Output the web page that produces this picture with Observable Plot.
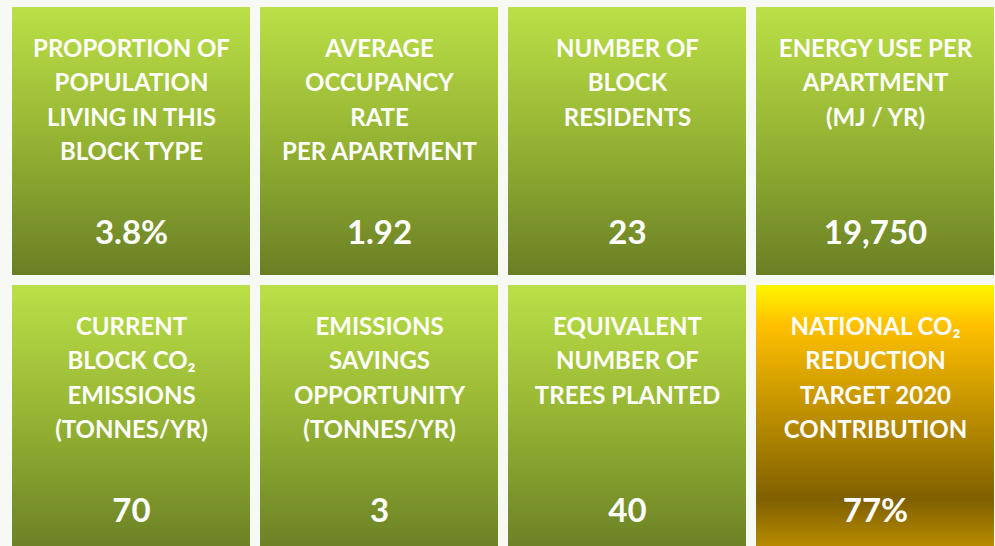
<!DOCTYPE html>
<html>
<head>
<meta charset="utf-8">
<script src="https://cdn.jsdelivr.net/npm/d3@7"></script>
<script src="https://cdn.jsdelivr.net/npm/@observablehq/plot@0.6"></script>
<style>
  html, body { margin: 0; padding: 0; background: #f7f9f4; }
</style>
</head>
<body>
<div id="chart"></div>
<script>
const titles = [
  "PROPORTION OF\nPOPULATION\nLIVING IN THIS\nBLOCK TYPE",
  "AVERAGE\nOCCUPANCY\nRATE\nPER APARTMENT",
  "NUMBER OF\nBLOCK\nRESIDENTS",
  "ENERGY USE PER\nAPARTMENT\n(MJ / YR)",
  "CURRENT\nBLOCK CO₂\nEMISSIONS\n(TONNES/YR)",
  "EMISSIONS\nSAVINGS\nOPPORTUNITY\n(TONNES/YR)",
  "EQUIVALENT\nNUMBER OF\nTREES PLANTED",
  "NATIONAL CO₂\nREDUCTION\nTARGET 2020\nCONTRIBUTION"
];
const values = ["3.8%", "1.92", "23", "19,750", "70", "3", "40", "77%"];
const themes = ["green", "green", "green", "green", "green", "green", "green", "gold"];
const columns = [0, 1, 2, 3];
const rows = [0, 1];

const tiles = titles.map((t, i) => ({
  title: t,
  value: values[i],
  theme: themes[i],
  col: i % 4,
  row: Math.floor(i / 4)
}));

const chart = Plot.plot({
  width: 995,
  height: 546,
  margin: 0,
  style: { background: "#f7f9f4", fontFamily: "Lato, 'Open Sans', sans-serif" },
  x: { type: "band", domain: columns, range: [11, 996], paddingInner: 0.0389, paddingOuter: 0, axis: null },
  y: { type: "band", domain: rows, range: [7, 553], paddingInner: 0.036, paddingOuter: 0, axis: null },
  marks: [
    Plot.cell(tiles.filter(d => d.theme === "green"), { x: "col", y: "row", fill: "url(#gradGreen)", inset: 0 }),
    Plot.cell(tiles.filter(d => d.theme === "gold"), { x: "col", y: "row", fill: "url(#gradGold)", inset: 0 }),
    Plot.text(tiles, {
      x: "col", y: "row", text: "title",
      fill: "white", fontWeight: "bold", fontSize: 24,
      lineHeight: 1.4375, lineAnchor: "top", dy: -109
    }),
    Plot.text(tiles, {
      x: "col", y: "row", text: "value",
      fill: "white", fontWeight: "bold", fontSize: 33,
      lineAnchor: "bottom", dy: 102
    })
  ]
});

const defs = d3.select(chart).insert("defs", ":first-child");
const g1 = defs.append("linearGradient").attr("id", "gradGreen")
  .attr("x1", 0).attr("y1", 0).attr("x2", 0).attr("y2", 1);
[[0, "#bbe047"], [0.5, "#95b333"], [1, "#6a7f25"]].forEach(([o, c]) =>
  g1.append("stop").attr("offset", o).attr("stop-color", c));
const g2 = defs.append("linearGradient").attr("id", "gradGold")
  .attr("x1", 0).attr("y1", 0).attr("x2", 0).attr("y2", 1);
[[0, "#fff600"], [0.15, "#ffc000"], [0.8, "#7f6000"], [1, "#bf9000"]].forEach(([o, c]) =>
  g2.append("stop").attr("offset", o).attr("stop-color", c));

document.getElementById("chart").appendChild(chart);
</script>
</body>
</html>
